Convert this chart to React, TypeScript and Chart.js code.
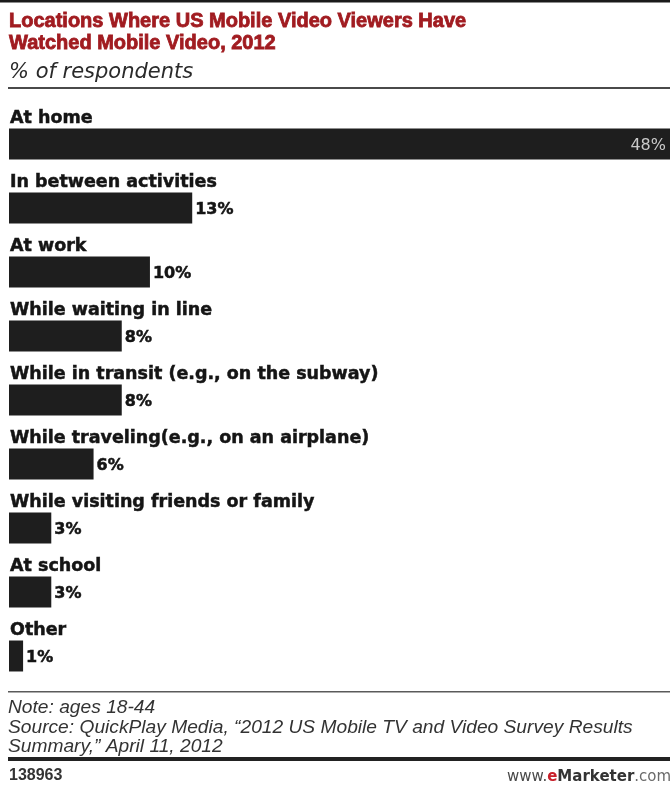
import React, { useEffect, useRef } from "react";
import { Chart, registerables } from "chart.js";

Chart.register(...registerables);

const TITLE_LINES = [
  "Locations Where US Mobile Video Viewers Have",
  "Watched Mobile Video, 2012",
];
const SUBTITLE = "% of respondents";
const CATEGORIES = [
  "At home",
  "In between activities",
  "At work",
  "While waiting in line",
  "While in transit (e.g., on the subway)",
  "While traveling(e.g., on an airplane)",
  "While visiting friends or family",
  "At school",
  "Other",
];
const VALUES = [48, 13, 10, 8, 8, 6, 3, 3, 1];
const NOTE_LINES = [
  "Note: ages 18-44",
  "Source: QuickPlay Media, \u201c2012 US Mobile TV and Video Survey Results",
  "Summary,\u201d April 11, 2012",
];
const CHART_ID = "138963";
const X_MAX = 46.9;

const W = 670;
const H = 786;

const decor = {
  id: "decor",
  beforeDraw(chart: any) {
    const ctx = chart.ctx;
    ctx.save();
    ctx.fillStyle = "#ffffff";
    ctx.fillRect(0, 0, chart.width, chart.height);
    ctx.restore();
  },
  afterDraw(chart: any) {
    const ctx = chart.ctx;
    const area = chart.chartArea;
    ctx.save();

    // top border
    ctx.fillStyle = "#1a1a1a";
    ctx.fillRect(0, 0, W, 2.5);

    // title
    ctx.fillStyle = "#a11c21";
    ctx.strokeStyle = "#a11c21";
    ctx.lineWidth = 0.8;
    ctx.font = "bold 20px 'Liberation Sans', Arial, sans-serif";
    ctx.textAlign = "left";
    ctx.textBaseline = "alphabetic";
    TITLE_LINES.forEach((t, i) => {
      ctx.fillText(t, 9, 27 + i * 22);
      ctx.strokeText(t, 9, 27 + i * 22);
    });

    // subtitle
    ctx.fillStyle = "#2a2a2a";
    ctx.font = "italic 21px 'DejaVu Sans', sans-serif";
    ctx.fillText(SUBTITLE, 9, 78);

    // rule under subtitle
    ctx.fillStyle = "#4a4a4a";
    ctx.fillRect(8, 87, W - 8, 2);

    // bar labels
    const meta = chart.getDatasetMeta(0);
    meta.data.forEach((bar: any, i: number) => {
      const p = bar.getProps(["x", "y", "base", "height"], true);
      const top = p.y - p.height / 2;
      ctx.fillStyle = "#151515";
      ctx.strokeStyle = "#151515";
      ctx.lineWidth = 0.5;
      ctx.textAlign = "left";
      ctx.textBaseline = "alphabetic";
      ctx.font = "bold 17.5px 'DejaVu Sans', sans-serif";
      ctx.fillText(CATEGORIES[i], p.base + 1, top - 6);
      ctx.strokeText(CATEGORIES[i], p.base + 1, top - 6);

      const label = VALUES[i] + "%";
      ctx.textBaseline = "middle";
      if (p.x >= area.right - 1) {
        ctx.textAlign = "right";
        ctx.fillStyle = "#c9c9c9";
        ctx.font = "16px 'DejaVu Sans', sans-serif";
        ctx.fillText(label, area.right - 4, p.y + 2);
      } else {
        ctx.textAlign = "left";
        ctx.fillStyle = "#151515";
        ctx.font = "bold 16px 'DejaVu Sans', sans-serif";
        ctx.fillText(label, p.x + 3, p.y + 2);
        ctx.strokeText(label, p.x + 3, p.y + 2);
      }
    });

    // footer rules and notes
    ctx.fillStyle = "#5a5a5a";
    ctx.fillRect(8, 691, W - 8, 1.5);
    ctx.fillStyle = "#333333";
    ctx.textAlign = "left";
    ctx.textBaseline = "alphabetic";
    ctx.font = "italic 19.2px 'Liberation Sans', Arial, sans-serif";
    NOTE_LINES.forEach((t, i) => ctx.fillText(t, 8, 713 + i * 19.5));
    ctx.fillStyle = "#222222";
    ctx.fillRect(8, 757, W - 8, 4);

    ctx.fillStyle = "#333333";
    ctx.font = "bold 16px 'Liberation Sans', Arial, sans-serif";
    ctx.fillText(CHART_ID, 9, 780);

    // www.eMarketer.com
    let x = 507;
    const parts: [string, string, string][] = [
      ["www.", "15px 'DejaVu Sans', sans-serif", "#4a4a4a"],
      ["e", "bold 15px 'DejaVu Sans', sans-serif", "#c8202a"],
      ["Marketer", "bold 15px 'DejaVu Sans', sans-serif", "#333333"],
      [".com", "15px 'DejaVu Sans', sans-serif", "#6a6a6a"],
    ];
    parts.forEach(([t, f, c]) => {
      ctx.font = f;
      ctx.fillStyle = c;
      ctx.fillText(t, x, 781);
      x += ctx.measureText(t).width;
    });

    ctx.restore();
  },
};

export default function App() {
  const ref = useRef<HTMLCanvasElement | null>(null);
  useEffect(() => {
    if (!ref.current) return;
    const chart = new Chart(ref.current, {
      type: "bar",
      data: {
        labels: CATEGORIES,
        datasets: [
          {
            data: VALUES,
            backgroundColor: "#1e1e1e",
            borderWidth: 0,
            barPercentage: 0.484,
            categoryPercentage: 1,
          },
        ],
      },
      options: {
        indexAxis: "y",
        animation: false,
        responsive: false,
        events: [],
        layout: { padding: { top: 112, bottom: 98, left: 9, right: 0 } },
        scales: {
          x: { display: false, min: 0, max: X_MAX },
          y: { display: false },
        },
        plugins: {
          legend: { display: false },
          tooltip: { enabled: false },
          title: { display: false },
        },
      },
      plugins: [decor],
    });
    return () => chart.destroy();
  }, []);
  return (
    <div style={{ position: "absolute", left: 0, top: 0, width: W, height: H }}>
      <canvas ref={ref} width={W} height={H} style={{ width: W, height: H, display: "block" }} />
    </div>
  );
}
